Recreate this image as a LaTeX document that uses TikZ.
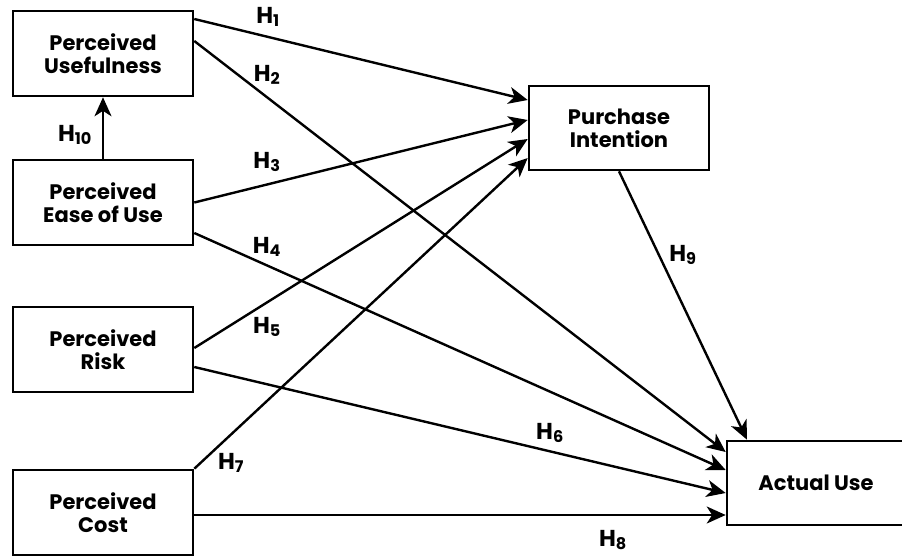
\documentclass[tikz,border=0pt]{standalone}
\usepackage{fontspec}
\setmainfont{Poppins}
\usetikzlibrary{arrows.meta,positioning}
\tikzset{
  construct/.style={draw, line width=2.6pt, minimum width=180pt, minimum height=85pt,
    inner sep=0pt, align=center, font=\bfseries\fontsize{21}{23}\selectfont},
  link/.style={line width=2.4pt, -{Stealth[length=19pt,width=17pt,inset=5.5pt]}},
  hlabel/.style={font=\bfseries\fontsize{23}{25}\selectfont, inner sep=0pt}
}
\newcommand{\hyp}[1]{H\textsubscript{#1}}

\begin{document}
\begin{tikzpicture}[x=1pt,y=-1pt]
  \useasboundingbox (0,0) rectangle (902,557);

  % constructs
  \node[construct] (pu)   at (103,53.5)  {Perceived\\Usefulness};
  \node[construct] (peou) at (103,202.5) {Perceived\\Ease of Use};
  \node[construct] (pr)   at (103,349.5) {Perceived\\Risk};
  \node[construct] (pc)   at (103,512.5) {Perceived\\Cost};
  \node[construct, minimum height=84pt] (pi) at (619,128) {Purchase\\Intention};
  \node[construct, minimum width=178pt, minimum height=84pt] (au) at (816,483) {Actual Use};

  % paths
  \draw[link] ([yshift=34.5pt]pu.east) -- ([yshift=28pt]pi.west);
  \draw[link] ([yshift=12.5pt]pu.east) -- ([yshift=31pt]au.west);
  \draw[link] (peou.east) -- ([yshift=8pt]pi.west);
  \draw[link] ([yshift=-30.5pt]peou.east) -- ([yshift=13pt]au.west);
  \draw[link] ([yshift=1.5pt]pr.east) -- ([yshift=-11pt]pi.west);
  \draw[link] ([yshift=-17.5pt]pr.east) -- ([yshift=-10pt]au.west);
  \draw[link] (pc.north east) -- ([yshift=-30pt]pi.west);
  \draw[link] ([yshift=-2.5pt]pc.east) -- ([yshift=-32pt]au.west);
  \draw[link] (pi.south) -- ([xshift=-69pt]au.north);
  \draw[link] (peou.north) -- (pu.south);

  % hypotheses
  \node[hlabel] (h1)  at (268,17)  {\hyp{1}};
  \node[hlabel] (h2)  at (267,75)  {\hyp{2}};
  \node[hlabel] (h3)  at (267,162) {\hyp{3}};
  \node[hlabel] (h4)  at (267,247) {\hyp{4}};
  \node[hlabel] (h5)  at (267,327) {\hyp{5}};
  \node[hlabel] (h6)  at (550,433) {\hyp{6}};
  \node[hlabel] (h7)  at (231,463) {\hyp{7}};
  \node[hlabel] (h8)  at (613,540) {\hyp{8}};
  \node[hlabel] (h9)  at (683,255) {\hyp{9}};
  \node[hlabel] (h10) at (75,135)  {\hyp{10}};
\end{tikzpicture}
\end{document}
